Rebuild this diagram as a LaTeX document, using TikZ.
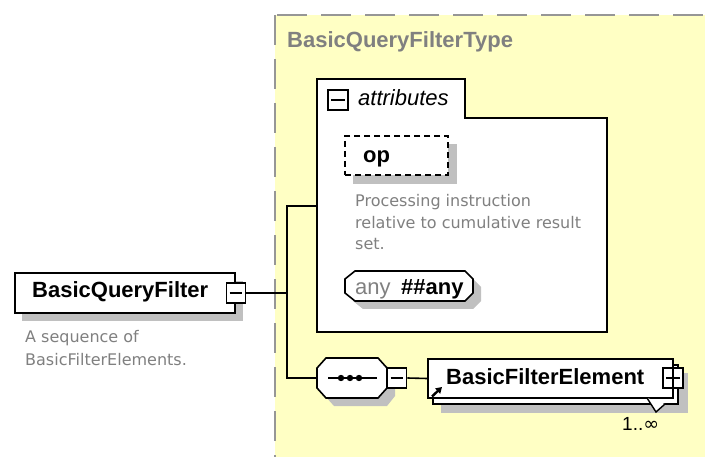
\documentclass[tikz,border=0pt]{standalone}
\usepackage{fontspec}
\setmainfont{Liberation Sans}
\newfontfamily\descfont{DejaVu Sans}
\usetikzlibrary{arrows.meta}
\definecolor{typefill}{RGB}{255,255,196}
\definecolor{typeborder}{RGB}{150,150,150}
\definecolor{shadowgray}{RGB}{192,192,192}
\definecolor{desctext}{RGB}{128,128,128}
\begin{document}
\begin{tikzpicture}[x=1bp,y=-1bp,
  outline/.style={draw=black, line width=1.6bp},
  conn/.style={draw=black, line width=1.6bp},
  shade/.style={fill=shadowgray},
  boxnode/.style={outline, fill=white, rectangle, inner sep=0pt},
  togglebox/.style={outline, fill=white, rectangle, inner sep=0pt,
    minimum width=19bp, minimum height=20bp},
  namefont/.style={font=\fontsize{22bp}{26bp}\selectfont\bfseries, inner sep=0pt, anchor=base west},
  plainfont/.style={font=\fontsize{22bp}{26bp}\selectfont, inner sep=0pt, anchor=base west},
  italfont/.style={font=\fontsize{22bp}{26bp}\selectfont\itshape, inner sep=0pt, anchor=base west},
  descline/.style={font=\descfont\fontsize{16bp}{20bp}\selectfont, text=desctext, inner sep=0pt, anchor=base west},
]
\useasboundingbox (0,0) rectangle (705,457);
\clip (0,0) rectangle (705,457);
\fill[white] (0,0) rectangle (705,457);

% complex type area
\draw[fill=typefill, draw=typeborder, line width=2.2bp, dash pattern=on 30bp off 14bp]
  (275,15) rectangle (740,490);
\node[namefont, text=desctext] (typename) at (287,48) {BasicQueryFilterType};

% root element
\fill[shade] (22,281) rectangle (243,321);
\node[boxnode, minimum width=220bp, minimum height=40bp] (bqf) at (125,293) {};
\node[namefont] (bqflabel) at (32,298) {BasicQueryFilter};
\node[togglebox] (bqfminus) at (236,293) {};
\draw[line width=1.6bp] ([xshift=4bp]bqfminus.west) -- ([xshift=-4bp]bqfminus.east);
\node[descline] (bqfdesc1) at (25,343) {A sequence of};
\node[descline] (bqfdesc2) at (25,365) {BasicFilterElements.};

% junction points of the content model
\coordinate (j0) at (287,293);
\coordinate (ja) at (287,206);
\coordinate (jb) at (287,378);
\coordinate (attrin) at (317,206);

% attributes group
\draw[outline, fill=white] (317,332) -- (317,79) -- (465,79) -- (465,118)
  -- (607,118) -- (607,332) -- cycle;
\node[inner sep=0pt, minimum width=290bp, minimum height=214bp] (attr) at (462,225) {};
\node[togglebox, minimum width=20bp] (attrminus) at (338,100) {};
\draw[line width=1.6bp] ([xshift=4bp]attrminus.west) -- ([xshift=-4bp]attrminus.east);
\node[italfont] (attrlabel) at (358,106) {attributes};

% attribute op
\fill[shade] (353,144) rectangle (457,184);
\node[boxnode, minimum width=103bp, minimum height=39bp, dash pattern=on 6bp off 4bp] (op) at (396.5,155.5) {};
\node[namefont] (oplabel) at (363,163) {op};
\node[descline] (opdesc1) at (355,207) {Processing instruction};
\node[descline] (opdesc2) at (355,229) {relative to cumulative result};
\node[descline] (opdesc3) at (355,250) {set.};

% any attribute wildcard
\fill[shade] (363,279) -- (473,279) -- (481,287) -- (481,301) -- (473,309)
  -- (363,309) -- (353,301) -- (353,287) -- cycle;
\draw[outline, fill=white] (355,271) -- (465,271) -- (473,279) -- (473,293)
  -- (465,301) -- (355,301) -- (345,293) -- (345,279) -- cycle;
\node[plainfont, text=desctext] (anylabel) at (355,295) {any};
\node[namefont] (anyns) at (401,295) {\#\#any};

% sequence compositor
\fill[shade] (334,366) -- (387,366) -- (395,376) -- (395,396) -- (387,406)
  -- (334,406) -- (325,396) -- (325,376) -- cycle;
\draw[outline, fill=white] (326,358) -- (378,358) -- (387,368) -- (387,388)
  -- (378,398) -- (326,398) -- (317,388) -- (317,368) -- cycle;
\node[inner sep=0pt, minimum width=70bp, minimum height=40bp] (seq) at (352,378) {};
\draw[line width=1.6bp] (328,378) -- (377,378);
\foreach \dx in {341,350,359} \fill (\dx,378) circle (3.2bp);
\node[togglebox] (seqminus) at (397,378) {};
\draw[line width=1.6bp] ([xshift=4bp]seqminus.west) -- ([xshift=-4bp]seqminus.east);

% child element reference, repeated
\fill[shade] (441,373) rectangle (688,413);
\draw[outline, fill=white] (433,365) rectangle (678,404);
\node[boxnode, minimum width=245bp, minimum height=39bp] (bfe) at (550.5,378.5) {};
\node[namefont] (bfelabel) at (446,384) {BasicFilterElement};
\draw[line width=2.4bp, -{Triangle[length=6bp,width=7bp]}] (432,396.5) -- (442,387);
\node[togglebox, minimum width=20bp] (bfeplus) at (673,378) {};
\draw[line width=1.6bp] ([xshift=4bp]bfeplus.west) -- ([xshift=-4bp]bfeplus.east);
\draw[line width=1.6bp] ([yshift=4bp]bfeplus.north) -- ([yshift=-4bp]bfeplus.south);
\draw[line width=1.4bp, fill=white] (647,398) -- (656,412) -- (665,404);
\node[plainfont, font=\fontsize{19bp}{22bp}\selectfont] (bfemult) at (622,430) {1..{\descfont ∞}};

% connectors
\draw[conn] (bqfminus.east) -- (j0);
\draw[conn] (attrin) -- (ja) -- (jb) -- (seq.west);
\draw[conn] (seqminus.east) -- (bfe.west);
\end{tikzpicture}
\end{document}
